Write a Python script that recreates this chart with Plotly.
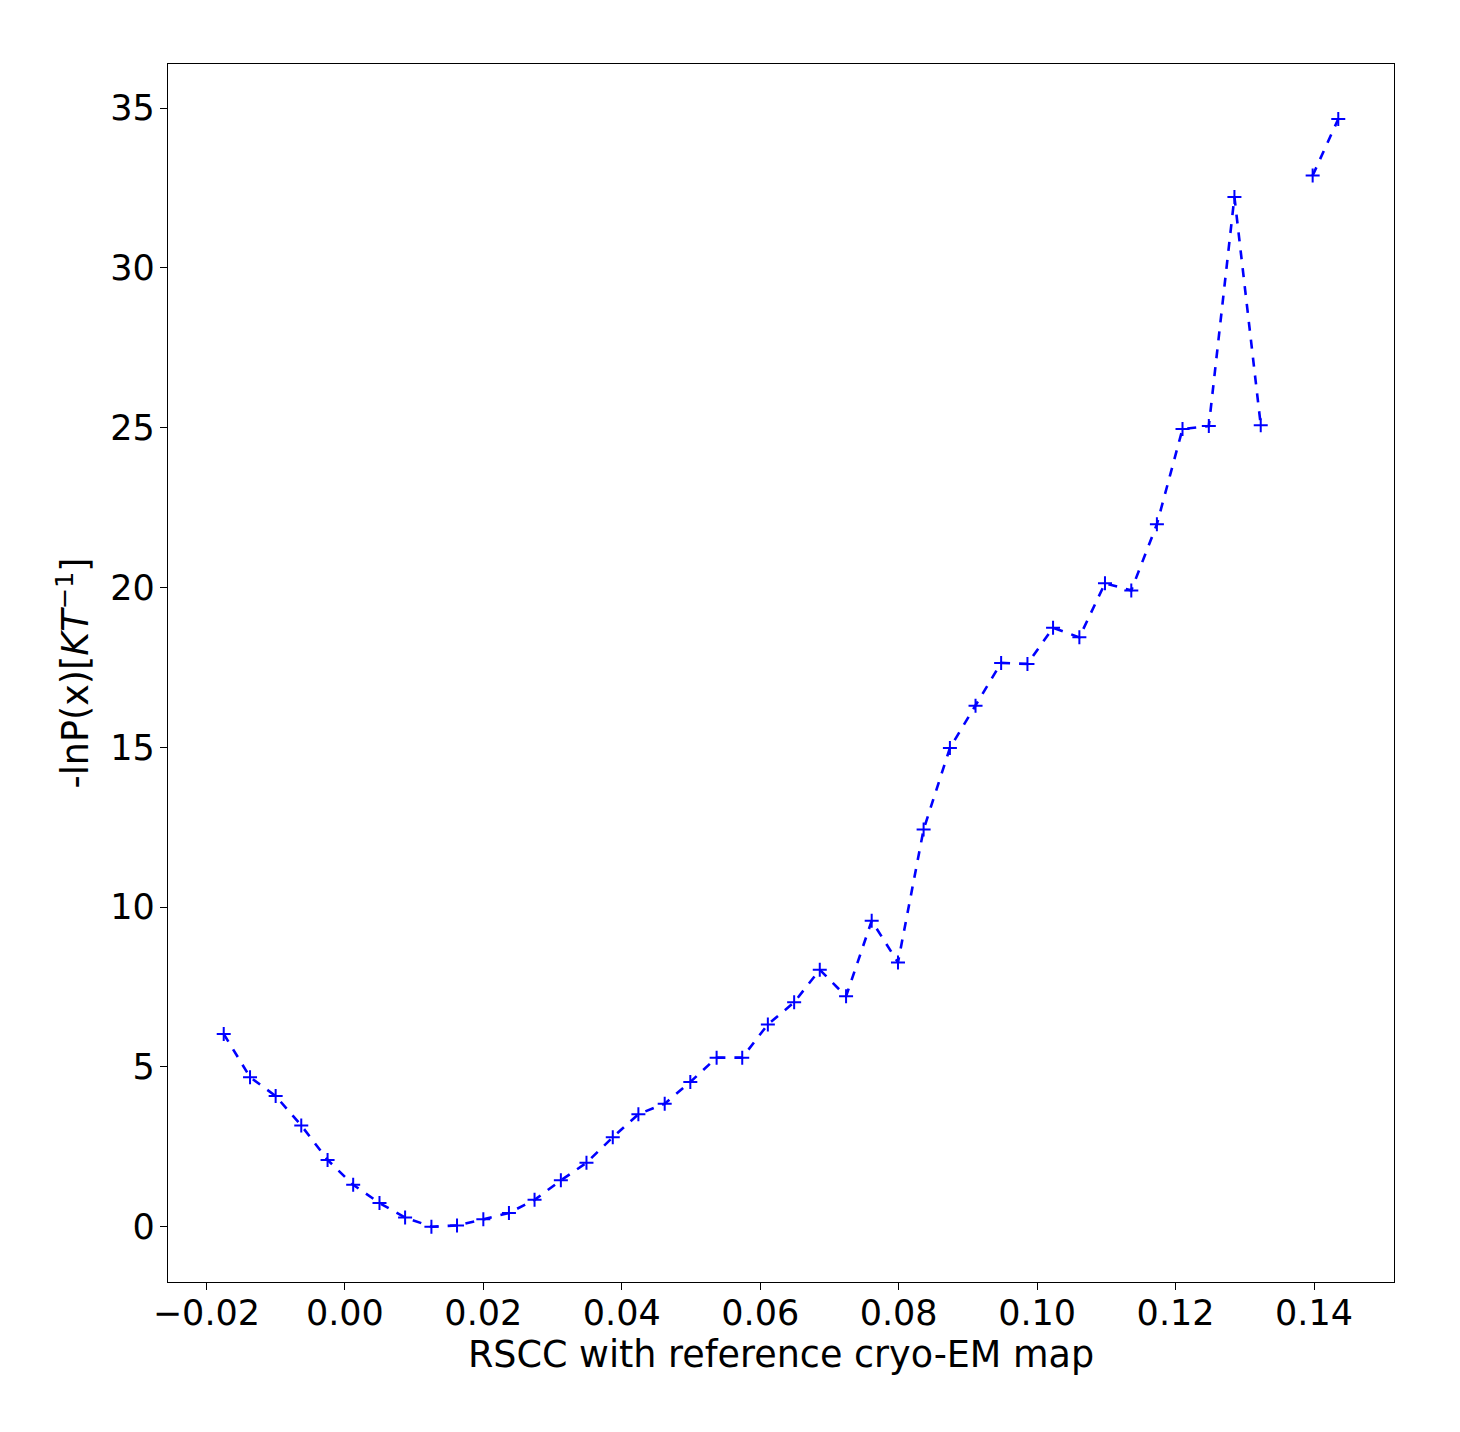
import plotly.graph_objects as go

rscc = [-0.0175, -0.0137, -0.0100, -0.0063, -0.0025, 0.0012, 0.0050, 0.0087, 0.0125, 0.0162,
        0.0200, 0.0237, 0.0274, 0.0312, 0.0349, 0.0387, 0.0424, 0.0462, 0.0499, 0.0537,
        0.0574, 0.0611, 0.0649, 0.0686, 0.0724, 0.0761, 0.0799, 0.0836, 0.0874, 0.0911,
        0.0948, 0.0986, 0.1023, 0.1061, 0.1098, 0.1136, 0.1173, 0.1210, 0.1248, 0.1285,
        0.1323, 0.1360, 0.1398, 0.1435]
neg_ln_p = [6.03, 4.68, 4.09, 3.17, 2.09, 1.31, 0.74, 0.29, 0.0, 0.04,
            0.23, 0.43, 0.84, 1.45, 2.0, 2.8, 3.52, 3.85, 4.53, 5.29,
            5.29, 6.33, 7.02, 8.04, 7.21, 9.57, 8.27, 12.43, 14.98, 16.3,
            17.64, 17.61, 18.74, 18.44, 20.13, 19.91, 21.98, 24.96, 25.05, 32.22,
            25.08, None, 32.89, 34.66]

x_ticks = [-0.02, 0.0, 0.02, 0.04, 0.06, 0.08, 0.10, 0.12, 0.14]
y_ticks = [0, 5, 10, 15, 20, 25, 30, 35]

FONT = "DejaVu Sans"
FS = 35
TFS = 36.5

fig = go.Figure()
fig.add_trace(go.Scatter(
    x=rscc, y=neg_ln_p, mode="lines+markers",
    line=dict(color="#0000ff", width=2.6, dash="dash"),
    marker=dict(symbol="cross-thin", size=10, line=dict(color="#0000ff", width=2)),
    connectgaps=False, showlegend=False,
))

axis_common = dict(
    showline=True, mirror=True, linecolor="black", linewidth=1.2,
    ticks="outside", ticklen=7, tickwidth=1.2, tickcolor="black",
    showgrid=False, zeroline=False,
    tickfont=dict(family=FONT, size=FS, color="black"),
)

fig.update_layout(
    width=1460, height=1432,
    margin=dict(l=160, r=74, t=56, b=158),
    paper_bgcolor="white", plot_bgcolor="white",
    font=dict(family=FONT, size=FS, color="black"),
    xaxis=dict(
        range=[-0.02555, 0.15155], tickvals=x_ticks, tickformat=".2f",
        ticklabelstandoff=-7,
        title=dict(text="RSCC with reference cryo-EM map", font=dict(family=FONT, size=TFS), standoff=6),
        **axis_common,
    ),
    yaxis=dict(
        range=[-1.73, 36.38], tickvals=y_ticks,
        ticklabelstandoff=-2,
        title=dict(text="-lnP(x)[<i>KT</i><sup>−1</sup>]", font=dict(family=FONT, size=TFS), standoff=10),
        **axis_common,
    ),
)

fig.write_html("out.html")
